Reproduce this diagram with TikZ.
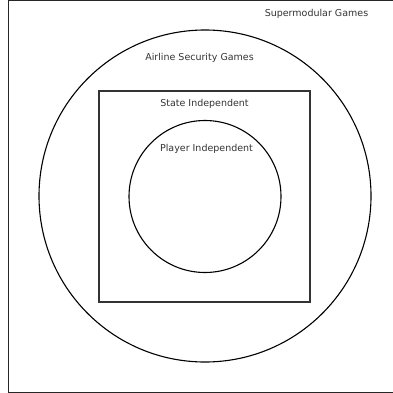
\documentclass[tikz,border=0pt]{standalone}
\usepackage{fontspec}
\setmainfont{DejaVu Sans}
\usepackage{xcolor}
\usepackage{tikz}

\begin{document}
\begin{tikzpicture}[x=1pt, y=-1pt,
      setcircle/.style={circle, draw=black, line width=1.1pt, inner sep=0pt},
      setbox/.style={rectangle, draw=black!80, line width=1.1pt, inner sep=0pt},
      setlabel/.style={inner sep=0pt, text=black!80, font=\fontsize{9.5}{11}\selectfont}
    ]
      \useasboundingbox (0,0) rectangle (392,393);
      \draw[black!85, line width=1.3pt] (393,0.7) -- (8.4,0.7) -- (8.4,392.3) -- (393,392.3);

      \node[setcircle, minimum size=332pt] (airline) at (205,196) {};
      \node[setbox, minimum size=211pt]    (state)   at (204.5,196.5) {};
      \node[setcircle, minimum size=152pt] (player)  at (205,196.5) {};

      \node[setlabel] (supermodularlbl) at (316.5,13.5) {Supermodular Games};
      \node[setlabel] (airlinelbl)      at (199.5,58) {Airline Security Games};
      \node[setlabel] (statelbl)        at (204.5,103.5) {State Independent};
      \node[setlabel] (playerlbl)       at (206.5,148.5) {Player Independent};
    \end{tikzpicture}
\end{document}
